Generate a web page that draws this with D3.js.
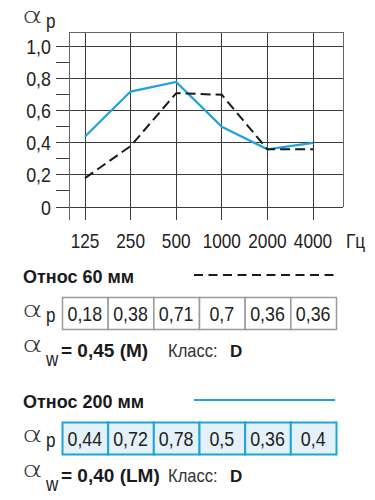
<!DOCTYPE html>
<html>
<head>
<meta charset="utf-8">
<script src="https://cdn.jsdelivr.net/npm/d3@7"></script>
<style>
  body { margin: 0; background: #fff; }
  svg { display: block; }
</style>
</head>
<body>
<div id="chart"></div>
<script>
// data
const freqs = ["125", "250", "500", "1000", "2000", "4000"];
const otnos60 = [0.18, 0.38, 0.71, 0.7, 0.36, 0.36];
const otnos200 = [0.44, 0.72, 0.78, 0.5, 0.36, 0.4];
const yMajor = [0, 0.2, 0.4, 0.6, 0.8, 1.0];
const yMinor = [0.1, 0.3, 0.5, 0.7, 0.9];
const yLabels = ["0", "0,2", "0,4", "0,6", "0,8", "1,0"];
const title60 = "Относ 60 мм";
const title200 = "Относ 200 мм";
const aw60 = "= 0,45 (M)";
const aw200 = "= 0,40 (LM)";
const klass = "D";

const blue = "#1fa3db";
const sans = "'Liberation Sans', Arial, sans-serif";

const svg = d3.select("#chart").append("svg")
  .attr("width", 375).attr("height", 500);

// text squeezed horizontally (the original uses a condensed face)
function ntext(g, px, py, str, size, opts) {
  opts = opts || {};
  return g.append("text")
    .attr("transform", "translate(" + px + "," + py + ") scale(" + (opts.sx || 0.85) + ",1)")
    .attr("text-anchor", opts.anchor || "start")
    .style("font-family", sans)
    .style("font-size", size + "px")
    .style("font-weight", opts.bold ? "bold" : "normal")
    .style("fill", opts.fill || "#222")
    .text(str);
}

// scales
const x = d3.scalePoint().domain(freqs).range([85, 313]);
const y = d3.scaleLinear().domain([0, 1]).range([207, 46.7]);
const cell = d3.scaleBand().domain(freqs).range([62, 336]);

const pLeft = 69, pRight = 343, pTop = 32, pBottom = 220;

// grid
const grid = svg.append("g").attr("stroke", "#3a3a3a").attr("stroke-width", 1).attr("shape-rendering", "crispEdges");
grid.selectAll(".maj").data(yMajor).enter().append("line")
  .attr("x1", 56).attr("x2", pRight)
  .attr("y1", d => y(d)).attr("y2", d => y(d));
grid.selectAll(".min").data(yMinor).enter().append("line")
  .attr("x1", 56).attr("x2", pLeft)
  .attr("y1", d => y(d)).attr("y2", d => y(d));
grid.selectAll(".v").data(freqs).enter().append("line")
  .attr("x1", d => x(d)).attr("x2", d => x(d))
  .attr("y1", pTop).attr("y2", pBottom);
// frame
const frame = svg.append("g").attr("stroke", "#666").attr("stroke-width", 1).attr("shape-rendering", "crispEdges");
frame.append("line").attr("x1", pLeft).attr("x2", pRight).attr("y1", pTop).attr("y2", pTop);
frame.append("line").attr("x1", pLeft).attr("x2", pLeft).attr("y1", pTop).attr("y2", pBottom);
frame.append("line").attr("x1", pRight).attr("x2", pRight).attr("y1", pTop).attr("y2", y(0));

// tick labels
yMajor.forEach((d, i) => ntext(svg, 51, y(d) + 7.5, yLabels[i], 21, {anchor: "end"}));
freqs.forEach(d => ntext(svg, x(d), 248, d, 21, {anchor: "middle", sx: 0.82}));
ntext(svg, 346, 248, "Гц", 21, {sx: 0.82});

// alpha symbol with subscript
function alpha(g, px, py, sub, subDy) {
  g.append("text")
    .attr("transform", "translate(" + px + "," + py + ") scale(1.5,1)")
    .style("font-family", "'DejaVu Sans', sans-serif").style("font-weight", "200")
    .style("font-size", "21px").style("fill", "#333")
    .text("α");
  ntext(g, px + 24, py + subDy, sub, 20);
}
alpha(svg, 22, 23, "p", 5);

// lines
const line = d3.line().x((d, i) => x(freqs[i])).y(d => y(d));
svg.append("path").datum(otnos200)
  .attr("d", line).attr("fill", "none")
  .attr("stroke", blue).attr("stroke-width", 2.2);
svg.append("path").datum(otnos60)
  .attr("d", line).attr("fill", "none")
  .attr("stroke", "#1a1a1a").attr("stroke-width", 2)
  .attr("stroke-dasharray", "10,5");

// legend blocks
function block(y0, title, values, dashed, aw, fill, stroke) {
  const g = svg.append("g");
  g.append("text").attr("x", 23).attr("y", y0)
    .style("font-family", sans).style("font-weight", "bold").style("font-size", "18px").style("fill", "#1a1a1a")
    .text(title);
  g.append("line").attr("x1", 194).attr("x2", 335)
    .attr("y1", y0 - 8).attr("y2", y0 - 8)
    .attr("stroke", dashed ? "#1a1a1a" : blue).attr("stroke-width", 2)
    .attr("stroke-dasharray", dashed ? "9,5.5" : null);

  const ty = y0 + 14;
  g.selectAll(".c").data(values).enter().append("rect")
    .attr("x", (d, i) => cell(freqs[i]) + 0.5).attr("y", ty + 0.5)
    .attr("width", cell.bandwidth()).attr("height", 32)
    .attr("fill", fill).attr("stroke", stroke).attr("stroke-width", dashed ? 1.5 : 2);
  values.forEach((d, i) => ntext(g, cell(freqs[i]) + cell.bandwidth() / 2, ty + 24,
    String(d).replace(".", ","), 21, {anchor: "middle"}));
  alpha(g, 22, ty + 20, "p", 5);

  const wy = y0 + 74;
  alpha(g, 22, wy - 5, "w", 14);
  g.append("text").attr("x", 61).attr("y", wy)
    .style("font-family", sans).style("font-weight", "bold").style("font-size", "19px").style("fill", "#1a1a1a")
    .text(aw);
  ntext(g, 168, wy, "Класс:", 18, {sx: 0.92, fill: "#333"});
  g.append("text").attr("x", 230).attr("y", wy)
    .style("font-family", sans).style("font-weight", "bold").style("font-size", "17px").style("fill", "#1a1a1a")
    .text(klass);
}
block(283, title60, otnos60, true, aw60, "#fff", "#9a9a9a");
block(408, title200, otnos200, false, aw200, "#e4f1f9", blue);
</script>
</body>
</html>
